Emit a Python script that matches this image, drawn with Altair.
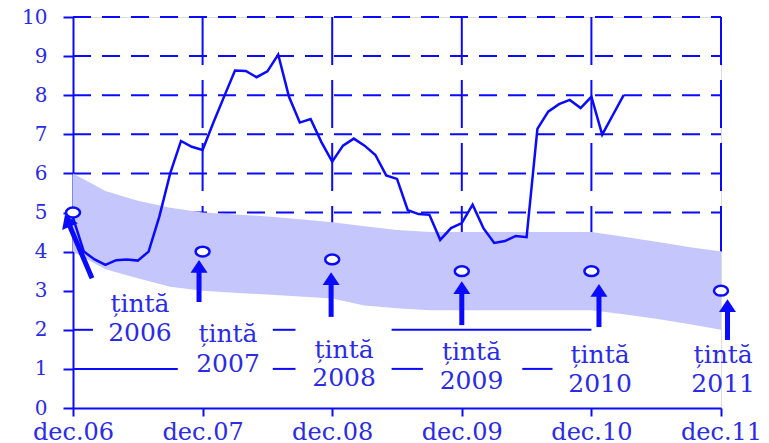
import altair as alt
import pandas as pd

# ---- data (months counted from dec.06) ----
inflation = [4.87, 4.0, 3.8, 3.66, 3.78, 3.8, 3.77, 4.0, 4.9, 6.0, 6.83, 6.68,
             6.6, 7.3, 7.97, 8.63, 8.62, 8.46, 8.61, 9.04, 7.96, 7.30, 7.39, 6.8,
             6.3, 6.71, 6.89, 6.71, 6.47, 5.95, 5.86, 5.06, 4.96, 4.94, 4.30, 4.6,
             4.73, 5.2, 4.6, 4.22, 4.27, 4.4, 4.37, 7.14, 7.58, 7.77, 7.88, 7.67,
             7.96, 6.99, 7.5, 8.01]
months = list(range(len(inflation)))

band_months = [0, 3, 6, 9, 12, 15, 18, 21, 24, 27, 30, 33, 36, 39, 42, 45, 48, 51, 54, 57, 60]
band_high = [6.0, 5.55, 5.3, 5.12, 5.0, 4.95, 4.9, 4.83, 4.75, 4.65, 4.55, 4.5, 4.5,
             4.5, 4.5, 4.5, 4.5, 4.38, 4.25, 4.12, 4.0]
band_low = [4.0, 3.55, 3.32, 3.1, 3.0, 2.95, 2.9, 2.85, 2.8, 2.62, 2.55, 2.5, 2.5,
            2.5, 2.5, 2.5, 2.5, 2.4, 2.28, 2.15, 2.0]

target_months = [0, 12, 24, 36, 48, 60]
target_values = [5.0, 4.0, 3.8, 3.5, 3.5, 3.0]

tick_months = [0, 12, 24, 36, 48, 60]
tick_labels = ["dec.06", "dec.07", "dec.08", "dec.09", "dec.10", "dec.11"]
y_ticks = [0, 1, 2, 3, 4, 5, 6, 7, 8, 9, 10]

label_word = "țintă"
label_years = ["2006", "2007", "2008", "2009", "2010", "2011"]
label_x = [6.2, 14.35, 25.1, 36.9, 48.8, 60.2]
label_word_y = [2.46, 1.69, 1.28, 1.23, 1.15, 1.15]
label_year_y = [1.71, 0.92, 0.56, 0.49, 0.41, 0.41]

arrow_tail_x = [1.76, 11.67, 23.9, 36.0, 48.7, 60.6]
arrow_tail_y = [3.32, 2.71, 2.33, 2.12, 2.07, 1.74]
arrow_head_x = [-0.51, 11.67, 23.9, 36.0, 48.7, 60.6]
arrow_head_y = [4.79, 3.62, 3.31, 3.08, 3.01, 2.62]
arrow_angle = [337, 0, 0, 0, 0, 0]

dash_grid_values = [5, 6, 7, 8, 9, 10]
vgrid_months = [12, 24, 36, 48, 60]
solid_grid = [(1, 0, 9.7), (1, 18.5, 20.6), (1, 29.5, 32.4), (1, 41.6, 44.4),
              (2, 0, 1.85), (2, 18.5, 20.6), (2, 29.5, 48.0)]

# ---- styling ----
BLUE = "#0a0aff"
TEXT = "#2a2ae8"
BAND = "#c4c6fc"
FONT = "DejaVu Serif"

xs = alt.Scale(domain=[0, 60], nice=False, zero=False)
ys = alt.Scale(domain=[0, 10], nice=False)

label_expr = str(tick_labels) + "[round(datum.value / 12)]"
xaxis = alt.Axis(values=tick_months, labelExpr=label_expr, grid=False,
                 tickSize=8, tickWidth=2, domainWidth=2,
                 domainColor=BLUE, tickColor=BLUE, labelColor=TEXT,
                 labelFont=FONT, labelFontSize=24, labelPadding=4,
                 labelFlush=False, labelOverlap=False, title=None)
yaxis = alt.Axis(values=y_ticks, grid=False, tickSize=10, tickWidth=2,
                 domainWidth=2, domainColor=BLUE, tickColor=BLUE, labelColor=TEXT,
                 labelFont=FONT, labelFontSize=20, labelPadding=16, title=None)


def X(f):
    return alt.X(f, scale=xs, axis=xaxis, title=None)


def Y(f):
    return alt.Y(f, scale=ys, axis=yaxis, title=None)


df_line = pd.DataFrame({"m": months, "v": inflation})
df_band = pd.DataFrame({"m": band_months, "lo": band_low, "hi": band_high})
df_tgt = pd.DataFrame({"m": target_months, "v": target_values})
df_hgrid = pd.DataFrame({"v": dash_grid_values, "a": 0, "b": 60})
df_vgrid = pd.DataFrame({"m": vgrid_months, "top": 10, "bot": 4})
df_solid = pd.DataFrame(solid_grid, columns=["v", "a", "b"])
df_arrow = pd.DataFrame({"tx": arrow_tail_x, "ty": arrow_tail_y,
                         "hx": arrow_head_x, "hy": arrow_head_y, "ang": arrow_angle})
df_lab = pd.DataFrame({
    "x": label_x + label_x,
    "y": label_word_y + label_year_y,
    "t": [label_word] * len(label_years) + label_years,
})

hgrid = alt.Chart(df_hgrid).mark_rule(color=BLUE, strokeWidth=2, strokeDash=[18, 11]).encode(
    y=Y("v:Q"), x=X("a:Q"), x2="b:Q",
)
vgrid = alt.Chart(df_vgrid).mark_rule(color=BLUE, strokeWidth=2, strokeDash=[48, 15]).encode(
    x=X("m:Q"), y=Y("top:Q"), y2="bot:Q",
)
solid = alt.Chart(df_solid).mark_rule(color=BLUE, strokeWidth=2).encode(
    y=Y("v:Q"), x=X("a:Q"), x2="b:Q",
)
band = alt.Chart(df_band).mark_area(color=BAND, opacity=1).encode(
    x=X("m:Q"), y=Y("lo:Q"), y2="hi:Q",
)
line = alt.Chart(df_line).mark_line(color=BLUE, strokeWidth=2.5).encode(
    x=X("m:Q"), y=Y("v:Q"),
)
ellipse = "M-1,0A1,0.7,0,1,1,1,0A1,0.7,0,1,1,-1,0Z"
targets = alt.Chart(df_tgt).mark_point(shape=ellipse, size=196, filled=True, fill="white",
                                       stroke=BLUE, strokeWidth=2.5, opacity=1).encode(
    x=X("m:Q"), y=Y("v:Q"),
)
shafts = alt.Chart(df_arrow).mark_rule(color=BLUE, strokeWidth=5).encode(
    x=X("tx:Q"), y=Y("ty:Q"), x2="hx:Q", y2="hy:Q",
)
heads = alt.Chart(df_arrow).mark_point(shape="M0,-0.75L1,0.75L-1,0.75Z", size=289,
                                       filled=True, color=BLUE, opacity=1).encode(
    x=X("hx:Q"), y=Y("hy:Q"), angle=alt.Angle("ang:Q", scale=None),
)
labels = alt.Chart(df_lab).mark_text(font=FONT, fontSize=25, color=TEXT,
                                     baseline="alphabetic", align="center").encode(
    x=X("x:Q"), y=Y("y:Q"), text="t:N",
)

chart = alt.layer(hgrid, vgrid, solid, band, line, shafts, heads, targets, labels).properties(
    width=648, height=391,
    padding={"left": 65, "top": 9, "right": 40, "bottom": 40},
    autosize=alt.AutoSizeParams(type="none"),
).configure_view(strokeWidth=0).configure(background="white")

chart.save("out.html", embed_options={"renderer": "svg", "actions": False})
